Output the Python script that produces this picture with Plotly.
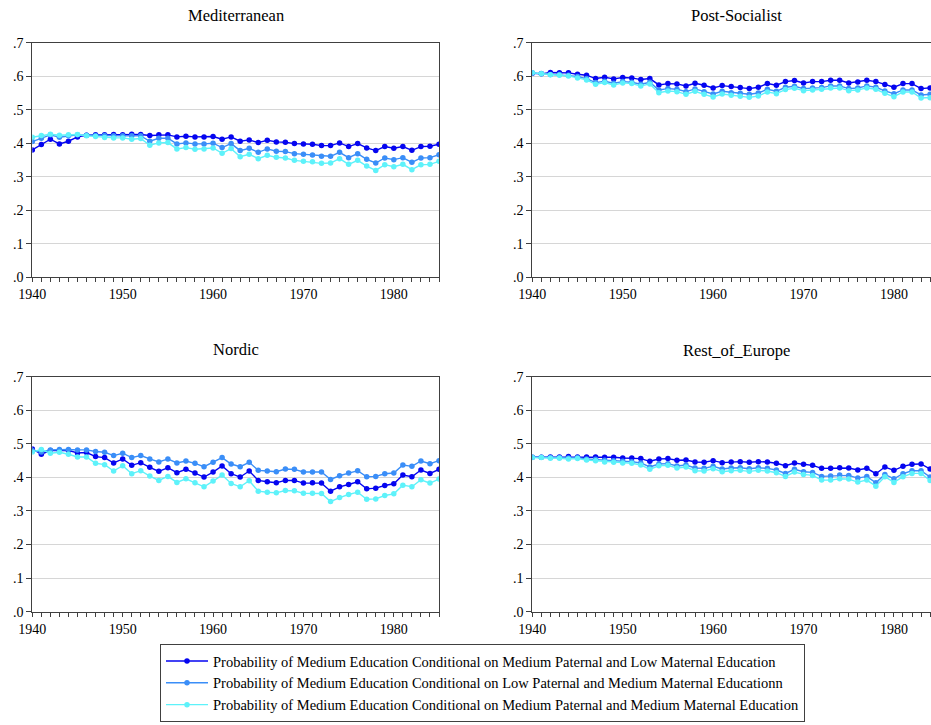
import plotly.graph_objects as go

years = list(range(1940, 1986))

regions = ["Mediterranean", "Post-Socialist", "Nordic", "Rest_of_Europe"]

series_names = [
    "Probability of Medium Education Conditional on Medium Paternal and Low Maternal Education",
    "Probability of Medium Education Conditional on Low Paternal and Medium Maternal Educationn",
    "Probability of Medium Education Conditional on Medium Paternal and Medium Maternal Education",
]

med_mp_lm = [.380, .396, .412, .398, .406, .419, .424, .425, .425, .426, .425, .427, .426, .423, .425, .425,
             .419, .421, .419, .419, .420, .412, .419, .406, .410, .402, .409, .404, .403, .399, .398, .397,
             .393, .393, .401, .390, .399, .386, .378, .390, .385, .390, .379, .390, .391, .397]
med_lp_mm = [.405, .415, .425, .418, .422, .425, .424, .423, .423, .422, .422, .422, .422, .406, .415, .415,
             .398, .401, .398, .398, .400, .387, .399, .378, .385, .373, .383, .376, .375, .369, .367, .365,
             .361, .361, .373, .357, .369, .352, .341, .356, .351, .357, .343, .356, .357, .366]
med_mp_mm = [.418, .423, .427, .424, .425, .426, .422, .420, .417, .416, .416, .412, .414, .394, .401, .402,
             .383, .387, .382, .383, .386, .370, .384, .360, .367, .354, .364, .358, .356, .349, .346, .345,
             .340, .341, .354, .337, .349, .332, .319, .336, .330, .337, .321, .336, .337, .346]

pso_mp_lm = [.609, .607, .611, .610, .610, .606, .603, .593, .597, .592, .596, .595, .590, .593, .574, .578,
             .577, .571, .579, .573, .565, .572, .569, .566, .563, .567, .578, .573, .584, .587, .580, .584,
             .584, .588, .588, .580, .583, .588, .584, .575, .567, .578, .578, .563, .565, .568]
pso_lp_mm = [.610, .608, .605, .605, .603, .599, .593, .581, .585, .579, .584, .582, .576, .582, .559, .563,
             .561, .554, .562, .554, .547, .555, .551, .549, .546, .550, .561, .555, .567, .570, .563, .565,
             .566, .571, .571, .563, .565, .571, .567, .556, .548, .559, .559, .544, .546, .548]
pso_mp_mm = [.610, .607, .604, .603, .601, .595, .589, .576, .581, .574, .580, .578, .571, .577, .551, .556,
             .554, .546, .555, .546, .538, .547, .543, .540, .537, .541, .553, .548, .560, .564, .557, .559,
             .561, .565, .565, .557, .559, .565, .561, .549, .539, .553, .553, .535, .536, .538]

nor_mp_lm = [.485, .469, .480, .480, .480, .473, .474, .462, .459, .443, .455, .436, .444, .430, .418, .429,
             .414, .424, .413, .401, .416, .434, .411, .401, .419, .391, .387, .384, .391, .391, .383, .384,
             .383, .359, .372, .379, .387, .366, .368, .376, .381, .407, .402, .422, .412, .424]
nor_lp_mm = [.480, .476, .482, .483, .483, .482, .482, .477, .475, .465, .472, .459, .465, .455, .446, .455,
             .443, .449, .442, .432, .445, .459, .440, .432, .445, .421, .419, .417, .425, .424, .416, .416,
             .416, .394, .405, .413, .420, .402, .403, .411, .413, .437, .433, .449, .441, .450]
nor_mp_mm = [.476, .483, .472, .475, .469, .461, .461, .442, .438, .419, .435, .411, .420, .404, .391, .403,
             .385, .396, .384, .372, .389, .407, .382, .372, .390, .359, .356, .354, .361, .360, .353, .353,
             .352, .328, .340, .349, .356, .335, .336, .346, .351, .377, .372, .393, .383, .395]

roe_mp_lm = [.460, .460, .461, .461, .462, .461, .461, .461, .460, .460, .458, .458, .456, .448, .455, .456,
             .451, .452, .446, .445, .450, .444, .446, .447, .445, .447, .446, .442, .435, .443, .439, .436,
             .427, .427, .429, .428, .422, .427, .411, .431, .421, .433, .439, .440, .425, .430]
roe_lp_mm = [.460, .460, .459, .459, .458, .459, .455, .454, .451, .450, .448, .447, .443, .431, .440, .441,
             .434, .437, .428, .427, .433, .425, .428, .429, .426, .429, .427, .422, .412, .424, .417, .415,
             .403, .404, .407, .406, .398, .403, .384, .409, .396, .411, .420, .420, .401, .405]
roe_mp_mm = [.459, .459, .457, .457, .455, .456, .452, .450, .446, .445, .443, .442, .437, .424, .435, .436,
             .428, .431, .420, .419, .426, .417, .420, .421, .418, .421, .419, .414, .403, .416, .409, .406,
             .392, .392, .396, .395, .386, .392, .374, .402, .385, .402, .412, .412, .391, .395]

panel_data = [
    [med_mp_lm, med_lp_mm, med_mp_mm],
    [pso_mp_lm, pso_lp_mm, pso_mp_mm],
    [nor_mp_lm, nor_lp_mm, nor_mp_mm],
    [roe_mp_lm, roe_lp_mm, roe_mp_mm],
]

y_ticks = [0, .1, .2, .3, .4, .5, .6, .7]
y_tick_text = [".0", ".1", ".2", ".3", ".4", ".5", ".6", ".7"]

colors = ["#0505f0", "#3a8ef8", "#5ef2fa"]
W, H = 931, 725
FONT = "Liberation Serif, Times New Roman, serif"

fig = go.Figure()

# panel geometry in pixels: (x0, x1), (y_top, y_bottom), x-range end, closed frame
left_x = (32.3, 439.0)
right_x = (532.3, 931.0)
top_y = (42.7, 277.3)
bot_y = (376.7, 611.7)
panels = [
    (left_x, top_y, 1985.0, True),
    (right_x, top_y, 1984.1, False),
    (left_x, bot_y, 1985.0, True),
    (right_x, bot_y, 1984.1, False),
]
title_y = [15, 15, 349, 350]
title_cx = [235.6, 736.0, 235.6, 736.0]

for p, (xs, ys, xend, full_frame) in enumerate(panels):
    ax = "" if p == 0 else str(p + 1)
    for s in range(3):
        fig.add_trace(go.Scatter(
            x=years, y=panel_data[p][s], mode="lines+markers",
            name=series_names[s], showlegend=(p == 0),
            line=dict(color=colors[s], width=1.4),
            marker=dict(color=colors[s], size=5.5),
            xaxis="x" + ax, yaxis="y" + ax,
        ))
    fig.layout["xaxis" + ax] = dict(
        domain=[xs[0] / W, xs[1] / W], range=[1940, xend], anchor="y" + ax,
        showgrid=False, zeroline=False, showline=True, linecolor="#404040", linewidth=1,
        mirror=True, ticks="outside", ticklen=4, tickcolor="#404040",
        tickvals=[1940, 1950, 1960, 1970, 1980],
        minor=dict(dtick=1, tick0=1940, ticks="outside", ticklen=4, tickcolor="#404040", showgrid=False),
        tickfont=dict(family=FONT, size=14, color="black"),
    )
    fig.layout["yaxis" + ax] = dict(
        domain=[1 - ys[1] / H, 1 - ys[0] / H], range=[0, 0.7], anchor="x" + ax,
        showgrid=True, gridcolor="#d6d6d6", gridwidth=1, zeroline=False,
        showline=True, linecolor="#404040", linewidth=1, mirror=full_frame,
        ticks="outside", ticklen=5, tickcolor="#404040",
        tickvals=y_ticks, ticktext=y_tick_text,
        tickfont=dict(family=FONT, size=14, color="black"),
    )
    fig.add_annotation(
        text=regions[p], xref="paper", yref="paper",
        x=title_cx[p] / W, y=1 - title_y[p] / H, xanchor="center", yanchor="middle",
        showarrow=False, font=dict(family=FONT, size=16.5, color="black"),
    )

fig.update_layout(
    width=W, height=H,
    margin=dict(l=0, r=0, t=0, b=0, autoexpand=False),
    paper_bgcolor="white", plot_bgcolor="white",
    font=dict(family=FONT, color="black"),
    legend=dict(
        x=160 / W, y=3 / H, xanchor="left", yanchor="bottom",
        bordercolor="#404040", borderwidth=1, bgcolor="white",
        font=dict(family=FONT, size=14.5, color="black"),
        tracegroupgap=0, itemwidth=42,
    ),
)

fig.write_html("out.html")
